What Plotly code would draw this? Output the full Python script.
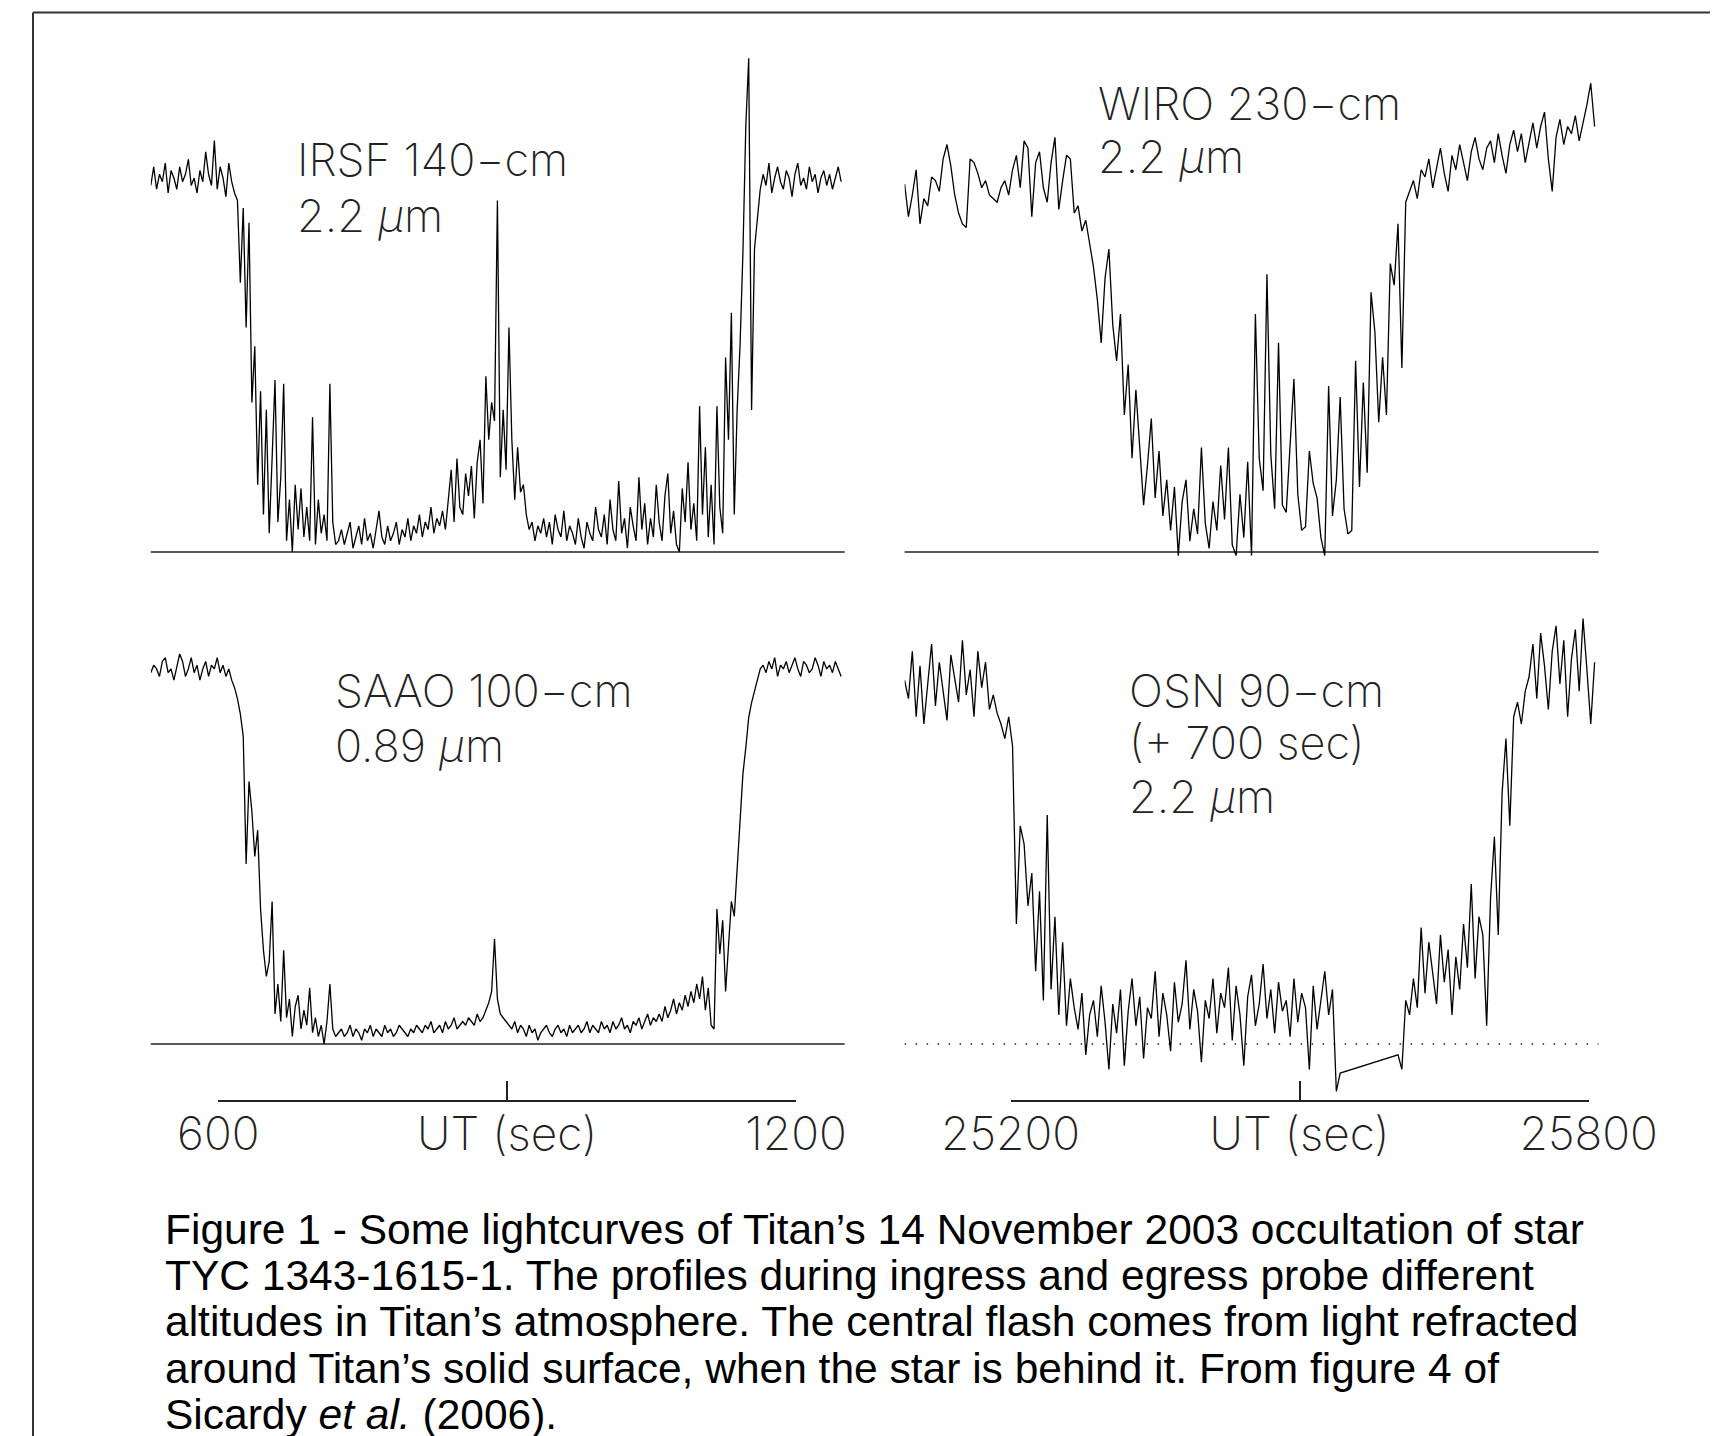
import plotly.graph_objects as go

W, H = 1718, 1436

# ---------------- data (normalized stellar flux in %) ----------------
# IRSF 140-cm, 2.2 um : one sample every 3 s starting at UT 530 s
irsf_t0, irsf_dt = 530, 3
irsf_flux = [
    98, 103, 97, 101, 99, 104, 96, 102, 100, 97, 103, 99, 101, 105, 98, 100, 96, 102, 99, 107,
    101, 98, 110, 97, 103, 100, 95, 104, 99, 96,
    94, 72, 92, 60, 88, 40, 55, 18, 43, 10, 38, 5, 25, 46, 8, 20, 45, 3, 14, 0,
    18, 6, 17, 4, 12, 3, 36, 2, 14, 5, 10, 3, 45, 8, 2,
    3, 6, 2, 5, 8, 1, 4, 7, 2, 9, 3, 5, 1, 6, 11, 4, 2, 7, 3, 5,
    8, 2, 6, 4, 9, 3, 7, 5, 10, 4, 8, 6, 12, 5, 9, 7, 11, 6, 14,
    22, 8, 25, 12, 10, 21, 15, 23, 9, 24, 30, 13, 47, 30, 40, 35, 94, 20, 38, 22,
    60, 30, 14, 28, 16, 18, 10, 6, 8,
    3, 7, 5, 9, 4, 8, 2, 10, 6, 4, 11, 3, 7, 5, 2, 9, 4, 1, 8, 5, 3, 12, 6,
    4, 10, 2, 14, 6, 3, 19, 5, 9, 1, 12, 7, 3, 20, 6, 13, 2, 9, 4, 18,
    8, 3, 15, 21, 5, 11, 2, 0, 17, 8, 24, 6, 13, 3, 39, 10, 28, 4, 18, 2,
    39, 12, 5, 52, 30, 64, 10, 38, 55, 80,
    114, 132, 38, 81, 90, 97,
    101, 98, 104, 96, 100, 103, 99, 97, 102, 100, 95, 101, 104, 98, 100, 97, 103, 99, 101, 96,
    100, 102, 98, 101, 97, 100, 103, 99,
]

# SAAO 100-cm, 0.89 um : one sample every 3 s starting at UT 530 s
saao_t0, saao_dt = 530, 3
saao_flux = [
    99, 101, 100, 98, 102, 103, 99, 100, 97, 101, 104, 102, 98, 100, 103, 99, 101, 97, 100, 102,
    98, 101, 100, 103, 99, 101, 98, 100,
    97, 95, 92, 88, 82, 48, 70, 62, 50, 57, 36, 25, 18, 22, 38, 8, 16, 6, 25, 7,
    12, 2, 10, 13, 4, 9, 5, 15, 3, 7, 2, 5, 0, 6, 16, 4, 2,
    3, 4, 2, 3, 5, 2, 4, 3, 1, 4, 3, 5, 2, 4, 3, 2, 5, 3, 4, 2,
    3, 5, 4, 3, 2, 4, 3, 5, 4, 3, 5, 4, 6, 3, 4, 5, 3, 6, 4, 5,
    7, 4, 5, 6, 5, 7, 6, 5, 8, 6, 7,
    9, 11, 14, 28, 12, 8, 7,
    6, 5, 4, 6, 3, 5, 4, 2, 5, 3, 4, 1, 3, 4, 5, 3, 2, 4, 5, 3,
    4, 2, 5, 3, 4, 5, 3, 4, 6, 3, 5, 4, 3, 6, 4, 5, 3, 6, 4, 5,
    7, 4, 5, 3, 6, 5, 7, 4, 6, 8, 5, 7, 6,
    8, 6, 10, 7, 9, 12, 8, 11, 9, 13, 10, 14, 11, 16, 12, 18, 9, 15, 5, 4,
    36, 24, 33, 14, 27, 38, 34, 47, 62, 72, 79, 87, 91, 94, 97, 100,
    101, 99, 102, 100, 103, 98, 101, 100, 102, 99, 101, 103, 100, 98, 102, 101, 99, 100, 103, 101,
    98, 102, 100, 101, 99, 102, 100, 98,
]

# WIRO 230-cm, 2.2 um : one sample every 4 s starting at UT 25090 s
wiro_t0, wiro_dt = 25090, 4
wiro_flux = [
    102, 93, 99, 106, 91, 98, 96, 104, 103, 100, 109, 113, 107, 99, 94, 91, 90, 109, 108, 105,
    101, 103, 99, 98, 97, 101, 103, 99, 106, 110, 101, 114, 112, 93, 108, 111, 101, 97, 108, 115,
    95, 103, 110, 109, 94,
    96, 89, 92, 85, 79, 70, 58, 76, 84, 63, 53, 66, 38, 52, 26, 45, 30, 13, 24, 37,
    15, 28, 10, 20, 6, 18, -1, 14, 20, 3, 12, 5, 29, 8, 1, 14, 6, 24, 9, 29,
    2, -1, 16, 4, 25, -1, 66, 26, 17, 77, 27, 12, 58, 13, 11, 30, 48, 16, 6, 7,
    28, 19, 15, 4, -1, 46, 10, 20, 43, 12, 5, 6, 53, 18, 47, 22, 72, 61, 36, 54,
    38, 80, 74, 91, 51, 97, 100,
    103, 98, 106, 104, 109, 101, 107, 112, 105, 100, 110, 106, 113, 108, 103, 111, 115, 109, 106, 112,
    114, 108, 116, 110, 105, 113, 117, 111, 116, 108, 114, 119, 112, 118, 122, 109, 100, 115, 120, 113,
    118, 116, 121, 114, 119, 124, 130, 118,
]

# OSN 90-cm (+700 s), 2.2 um : one sample every 4 s starting at UT 25090 s (None = no data)
osn_t0, osn_dt = 25090, 4
osn_flux = [
    100, 95, 108, 90, 104, 88, 99, 110, 93, 105, 97, 89, 107, 101, 94, 111, 96, 103, 90, 108,
    98, 105, 92,
    96, 91, 88, 84, 90,
    82, 33, 60,
    55, 38, 47, 20, 42, 12,
    63, 15, 35, 8, 28, 5, 18,
    10, 4, 14, -3, 8, 12, 2, 16, 6, -7, 11, 3, 15, -6, 9, 18, 5, 13, -4, 10,
    7, 20, 2, 14, 8, -2, 17, 6, 11, 23, 4, 15, 9, -5, 12, 7, 18, 3, 14, 10,
    21, 1, 16, 8, -6, 13, 19, 5, 11, 22, 7, 15, 3, 17, 9, 12, 2, 18, 6, 14,
    10, -7, 16, 4, 12, 20, 8, 15,
    -13, -8,
    None, None, None, None, None, None, None, None, None, None, None, None, None, None,
    -3, -7,
    12, 8, 18, 10, 32, 14, 28, 20, 11, 30, 17, 26, 8, 24, 15, 33, 21, 44, 18, 35,
    30, 5,
    40, 57, 30, 69, 84, 60, 90, 94, 88, 97,
    101, 110, 95, 113, 104, 92, 108, 115, 99, 111, 90, 106, 114, 97, 117, 103, 88, 105,
]

left_tickvals = [600, 900, 1200]
left_ticktext = ["600", "UT (sec)", "1200"]
right_tickvals = [25200, 25500, 25800]
right_ticktext = ["25200", "UT (sec)", "25800"]

panel_labels = {
    "irsf": ["IRSF 140\u2212cm", "2.2 <i>\u03bc</i>m"],
    "wiro": ["WIRO 230\u2212cm", "2.2 <i>\u03bc</i>m"],
    "saao": ["SAAO 100\u2212cm", "0.89 <i>\u03bc</i>m"],
    "osn": ["OSN 90\u2212cm", "(+ 700 sec)", "2.2 <i>\u03bc</i>m"],
}

caption_lines = [
    "Figure 1 - Some lightcurves of Titan\u2019s 14 November 2003 occultation of star",
    "TYC 1343-1615-1. The profiles during ingress and egress probe different",
    "altitudes in Titan\u2019s atmosphere. The central flash comes from light refracted",
    "around Titan\u2019s solid surface, when the star is behind it. From figure 4 of",
    "Sicardy <i>et al.</i> (2006).",
]

# ---------------- layout helpers ----------------
OFF = 8  # the page body adds an 8 px margin around the figure


def px_x(p):
    return (p - OFF) / W


def px_y(p):
    return 1 - (p - OFF) / H


def times(t0, dt, n):
    return [t0 + dt * i for i in range(n)]


LINE = dict(color="#000000", width=1.3)
AXC = "#222222"
LABEL_FONT = dict(family="Inter, DejaVu Sans", size=45, color="#222222", weight=200)
TICK_FONT = dict(family="Inter, DejaVu Sans", size=46, color="#222222", weight=200)

fig = go.Figure()

LX = (150.8, 844.7)
RX = (904.6, 1598.5)
panels = {
    "irsf": dict(ax="", xr=LX, yr=(40, 560), base=552, ppu=3.74, t0=irsf_t0, dt=irsf_dt, f=irsf_flux),
    "wiro": dict(ax="2", xr=RX, yr=(40, 560), base=552, ppu=3.606, t0=wiro_t0, dt=wiro_dt, f=wiro_flux),
    "saao": dict(ax="3", xr=LX, yr=(590, 1060), base=1044, ppu=3.751, t0=saao_t0, dt=saao_dt, f=saao_flux),
    "osn": dict(ax="4", xr=RX, yr=(590, 1120), base=1044, ppu=3.636, t0=osn_t0, dt=osn_dt, f=osn_flux),
}
PX_PER_SEC_L = 0.9628
PX_PER_SEC_R = 0.9637
xstart = {"irsf": 530, "saao": 530, "wiro": 25090, "osn": 25090}

layout = dict(
    template="none",
    width=W, height=H, margin=dict(l=0, r=0, t=0, b=0, pad=0, autoexpand=False),
    paper_bgcolor="white", plot_bgcolor="rgba(0,0,0,0)", showlegend=False,
)
shapes = []
annotations = []

for name, p in panels.items():
    ax = p["ax"]
    ppsec = PX_PER_SEC_L if name in ("irsf", "saao") else PX_PER_SEC_R
    x0 = xstart[name]
    x1 = x0 + (p["xr"][1] - p["xr"][0]) / ppsec
    ylo = (p["base"] - p["yr"][1]) / p["ppu"]
    yhi = (p["base"] - p["yr"][0]) / p["ppu"]
    layout["xaxis" + ax] = dict(domain=[px_x(p["xr"][0]), px_x(p["xr"][1])], range=[x0, x1],
                                visible=False, anchor="y" + ax, automargin=False)
    layout["yaxis" + ax] = dict(domain=[px_y(p["yr"][1]), px_y(p["yr"][0])], range=[ylo, yhi],
                                visible=False, anchor="x" + ax, automargin=False)
    fig.add_trace(go.Scatter(
        x=times(p["t0"], p["dt"], len(p["f"])), y=p["f"], mode="lines", line=LINE,
        connectgaps=True, xaxis="x" + ax, yaxis="y" + ax, hoverinfo="skip", cliponaxis=False,
    ))
    shapes.append(dict(
        type="line", xref="x%s domain" % ax, yref="y" + ax, x0=0, x1=1, y0=0, y1=0,
        line=dict(color=AXC, width=1.4, dash="1.5px,9.5px" if name == "osn" else "solid"),
        layer="below",
    ))

# UT (sec) bars
for ax, (a, b), rng, tv, tt in [
    ("5", (218.3, 796.0), [600, 1200], left_tickvals, left_ticktext),
    ("6", (1010.5, 1588.7), [25200, 25800], right_tickvals, right_ticktext),
]:
    layout["xaxis" + ax] = dict(
        domain=[px_x(a), px_x(b)], range=rng, anchor="y" + ax, side="bottom",
        showline=True, linecolor=AXC, linewidth=1.5, ticks="inside", ticklen=19, tickwidth=1.5,
        tickcolor=AXC, tickvals=tv, ticktext=tt, tickfont=TICK_FONT, showgrid=False, zeroline=False,
        ticklabelstandoff=-7, fixedrange=True, automargin=False,
    )
    layout["yaxis" + ax] = dict(domain=[px_y(1100), px_y(1070)], range=[0, 1], visible=False,
                                anchor="x" + ax, automargin=False)
    fig.add_trace(go.Scatter(x=rng, y=[0.5, 0.5], mode="lines", opacity=0, xaxis="x" + ax,
                             yaxis="y" + ax, hoverinfo="skip"))

label_pos = {
    "irsf": (295.0, [158.3, 214.0]),
    "wiro": (1096.0, [102.4, 156.0]),
    "saao": (332.5, [690.0, 744.5]),
    "osn": (1126.5, [690.0, 741.6, 795.0]),
}
for name, lines in panel_labels.items():
    xl, ys = label_pos[name]
    for txt, yc in zip(lines, ys):
        annotations.append(dict(
            text=txt, xref="paper", yref="paper", x=px_x(xl), y=px_y(yc + 1),
            xanchor="left", yanchor="middle", showarrow=False, font=LABEL_FONT,
        ))

CAP_FONT = dict(family="Liberation Sans, Arial, sans-serif", size=42.5, color="#000000")
for k, line in enumerate(caption_lines):
    baseline = 1242.5 + 46.4 * k
    annotations.append(dict(
        text=line, xref="paper", yref="paper", x=px_x(163), y=px_y(baseline - 13.4),
        xanchor="left", yanchor="middle", showarrow=False, font=CAP_FONT,
    ))

# outer frame (top and left edges)
shapes.append(dict(type="line", xref="paper", yref="paper", x0=px_x(33), x1=1.01,
                   y0=px_y(12.5), y1=px_y(12.5), line=dict(color="#333333", width=2)))
shapes.append(dict(type="line", xref="paper", yref="paper", x0=px_x(33), x1=px_x(33),
                   y0=px_y(12.5), y1=-0.01, line=dict(color="#333333", width=2)))

layout["shapes"] = shapes
layout["annotations"] = annotations
fig.update_layout(**layout)
fig.write_html("out.html")
